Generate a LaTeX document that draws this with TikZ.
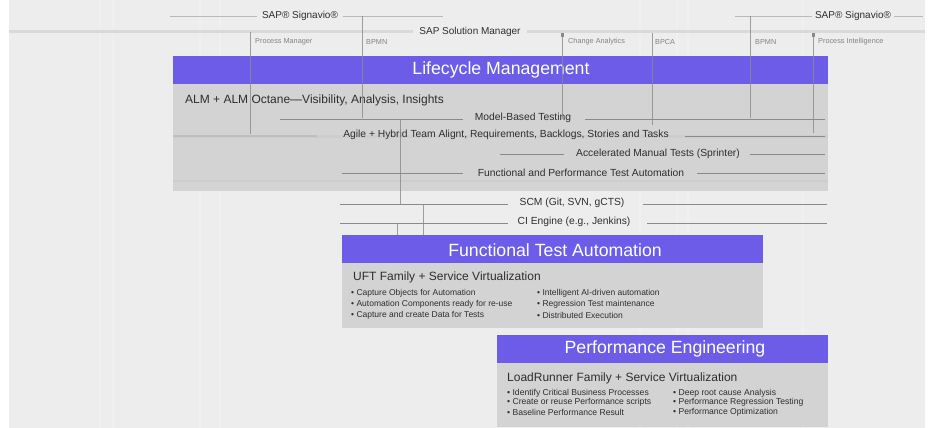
\documentclass[tikz,border=0pt]{standalone}
\usepackage{fontspec}
\setmainfont{Liberation Sans}
\definecolor{bgc}{HTML}{EDEDED}
\definecolor{purc}{HTML}{6C5CE7}
\definecolor{bodyc}{HTML}{D3D3D3}
\definecolor{lnc}{HTML}{8A8A8A}
\definecolor{txtc}{HTML}{2E2E2E}
\definecolor{bandc}{HTML}{D9D9D9}
\begin{document}
\begin{tikzpicture}[x=1pt,y=-1pt,
  hdr/.style={fill=purc},
  bodybox/.style={fill=bodyc},
  hdrtext/.style={text=white,font=\fontsize{17.7}{20}\selectfont,inner sep=0pt},
  rowtext/.style={text=txtc,font=\fontsize{10.3}{12}\selectfont,inner sep=0pt},
  toptext/.style={text=txtc,font=\fontsize{10}{12}\selectfont,inner sep=0pt},
  subtext/.style={text=txtc!60,font=\fontsize{7.3}{8}\selectfont,inner sep=0pt,anchor=west},
  subhead/.style={text=txtc,font=\fontsize{12}{14}\selectfont,inner sep=0pt,anchor=west},
  bul/.style={text=txtc,font=\fontsize{8.5}{10}\selectfont,inner sep=0pt,anchor=west},
  pbul/.style={text=txtc,font=\fontsize{8.6}{10}\selectfont,inner sep=0pt,anchor=west},
  conn/.style={draw=lnc,line width=0.7pt},
  vconn/.style={draw=lnc,line width=0.8pt,draw opacity=0.8},
  faint/.style={draw=white,line width=2pt,draw opacity=0.2}]
\useasboundingbox (0,0) rectangle (930,428);
\fill[white] (0,0) rectangle (930,428);
\fill[bgc] (9,0) rectangle (925,428);
% faint background lines
\foreach \fx in {100,113,200,220,640,677,688,803} {\draw[faint] (\fx,0) -- (\fx,428);}
% top band
\draw[bandc,line width=3pt] (9,32) -- (413,32);
\draw[bandc,line width=3pt] (527,32) -- (925,32);

% top texts
\node[toptext] (sig1) at (300,16) {SAP® Signavio®};
\node[toptext] (solman) at (470,32) {SAP Solution Manager};
\node[toptext] (sig2) at (853,16) {SAP® Signavio®};
\coordinate (s1a) at (170,16); \coordinate (s1b) at (443,16);
\coordinate (s2a) at (735,16); \coordinate (s2b) at (923,16);
\draw[conn,lnc!60] (s1a) -- (257,16);
\draw[conn,lnc!60] (343,16) -- (s1b);
\draw[conn,lnc!60] (s2a) -- (812,16);
\draw[conn,lnc!60] (894,16) -- (s2b);

% sub labels
\node[subtext] (l1) at (255,42) {Process Manager};
\node[subtext] (l2) at (366,42) {BPMN};
\node[subtext] (l3) at (568,42) {Change Analytics};
\node[subtext] (l4) at (655,42) {BPCA};
\node[subtext] (l5) at (755,42) {BPMN};
\node[subtext] (l6) at (818,42) {Process Intelligence};

% Lifecycle Management box
\fill[bodyc] (173,84) rectangle (828,191);
\fill[bodyc!92!black,opacity=0.35] (173,135) rectangle (828,138);
\fill[bodyc!92!black,opacity=0.35] (173,180) rectangle (828,182);
\node[hdr,minimum width=655pt,minimum height=28pt,inner sep=0pt,anchor=north west] (lmh) at (173,56) {};
\node[hdrtext] (lmt) at (501,70) {Lifecycle Management};
\node[subhead] (alm) at (185,100) {ALM + ALM Octane—Visibility, Analysis, Insights};

\node[rowtext] (mbt) at (523,118) {Model-Based Testing};
\node[rowtext] (agile) at (506,135) {Agile + Hybrid Team Alignt, Requirements, Backlogs, Stories and Tasks};
\node[rowtext] (amt) at (658,154) {Accelerated Manual Tests (Sprinter)};
\node[rowtext] (fpt) at (581,173) {Functional and Performance Test Automation};
\draw[conn] (280,119) -- (463,119);
\draw[conn] (585,119) -- (825,119);
\draw[conn,line width=1.4pt,draw=lnc!55] (173,136) -- (317,136);
\draw[conn] (685,136) -- (825,136);
\draw[conn] (500,154) -- (564,154);
\draw[conn] (750,154) -- (825,154);
\draw[conn] (342,173) -- (463,173);
\draw[conn] (697,173) -- (825,173);

% below lifecycle
\node[rowtext] (scm) at (572,203) {SCM (Git, SVN, gCTS)};
\node[rowtext] (ci) at (574,222) {CI Engine (e.g., Jenkins)};
\draw[conn] (340,204) -- (508,204);
\draw[conn] (643,204) -- (827,204);
\draw[conn] (340,223) -- (508,223);
\draw[conn] (647,223) -- (827,223);

% Functional Test Automation box
\fill[bodyc] (342,263) rectangle (763,328);
\node[hdr,minimum width=421pt,minimum height=28pt,inner sep=0pt,anchor=north west] (ftah) at (342,235) {};
\node[hdrtext] (ftat) at (555,250) {Functional Test Automation};
\node[subhead] (uft) at (353,277) {UFT Family + Service Virtualization};
\node[bul] (f1) at (351,293) {• Capture Objects for Automation};
\node[bul] (f2) at (351,304) {• Automation Components ready for re-use};
\node[bul] (f3) at (351,315) {• Capture and create Data for Tests};
\node[bul] (f4) at (537,293) {• Intelligent AI-driven automation};
\node[bul] (f5) at (537,304) {• Regression Test maintenance};
\node[bul] (f6) at (537,315) {• Distributed Execution};

% Performance Engineering box
\fill[bodyc] (497,362) rectangle (828,427);
\node[hdr,minimum width=331pt,minimum height=28pt,inner sep=0pt,anchor=north west] (peh) at (497,335) {};
\node[hdrtext] (pet) at (665,349) {Performance Engineering};
\node[subhead] (lr) at (507,378) {LoadRunner Family + Service Virtualization};
\node[pbul] (p1) at (507,393) {• Identify Critical Business Processes};
\node[pbul] (p2) at (507,402.5) {• Create or reuse Performance scripts};
\node[pbul] (p3) at (507,412) {• Baseline Performance Result};
\node[pbul] (p4) at (673,393) {• Deep root cause Analysis};
\node[pbul] (p5) at (673,402.5) {• Performance Regression Testing};
\node[pbul] (p6) at (673,412) {• Performance Optimization};

% vertical connectors
\draw[vconn] (250,32) -- (250,134);
\draw[vconn] (362,16) -- (362,118);
\draw[vconn] (400,119) -- (400,204);
\draw[vconn] (423,204) -- (ftah.north -| 423,235);
\draw[vconn] (397,223) -- (397,235);
\draw[vconn] (562,33) -- (562,119);
\draw[vconn] (652,33) -- (652,125);
\draw[vconn] (750,16) -- (750,118);
\draw[vconn] (813,33) -- (813,133);
\fill[lnc] (560.5,33) rectangle (563.5,37);
\fill[lnc] (811.5,33) rectangle (814.5,37);
\end{tikzpicture}
\end{document}
